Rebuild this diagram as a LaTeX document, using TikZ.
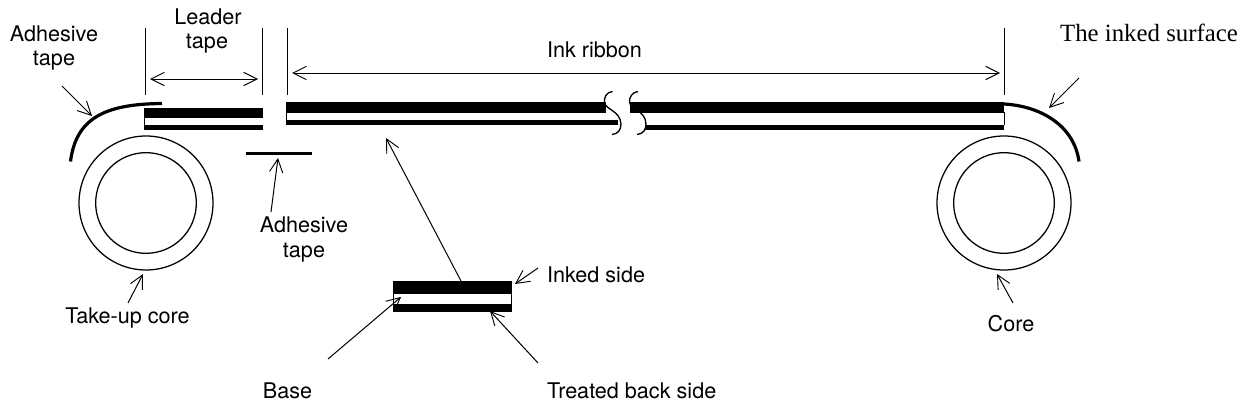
\documentclass[tikz,border=0pt]{standalone}
\usepackage{fontspec}
\setmainfont{TeX Gyre Heros}
\newfontfamily\timesfont{Liberation Serif}
\usetikzlibrary{arrows.meta}
\tikzset{
  x=0.75pt,y=-0.75pt,
  lbl/.style={anchor=base,inner sep=0pt,outer sep=0pt,font=\fontsize{16.2}{18}\selectfont},
  lblL/.style={lbl,anchor=base west},
  thin line/.style={line width=0.75pt,black},
  dim/.style={thin line,{Straight Barb[length=10pt,width=10pt,line width=0.7pt]}-{Straight Barb[length=10pt,width=10pt,line width=0.7pt]}},
  pointer/.style={thin line,-{Straight Barb[length=10pt,width=10pt,line width=0.7pt]}},
  ext/.style={line width=0.7pt,black},
  tapecurve/.style={line width=2.4pt,black},
  corecircle/.style={circle,draw=black,line width=0.95pt,fill=none,inner sep=0pt,outer sep=0pt},
  band/.style={fill=black,draw=none},
  squig/.style={line width=1pt,black},
}
\begin{document}
\begin{tikzpicture}
\useasboundingbox (0,0) rectangle (1240,407);
\fill[white] (0,0) rectangle (1240,407);

% leader tape
\fill[band] (144,107.5) rectangle (263,118);
\fill[band] (144,125) rectangle (263,130);
\draw[line width=0.6pt] (144.3,118) -- (144.3,125);
% ink ribbon, left part
\fill[band] (286,102) rectangle (606,112.5);
\fill[band] (286,120) rectangle (618,125);
\draw[line width=0.6pt] (286.3,112) -- (286.3,120);
% ink ribbon, right part
\fill[band] (630,102) rectangle (1004,112.5);
\fill[band] (645,125) rectangle (1004,130);
\draw[line width=0.6pt] (1004,112) -- (1004,125);

% break marks
\draw[squig] (612.5,91.5) .. controls (606,92) and (604,98) .. (604.5,102) .. controls (605,110) and (620,110) .. (621,124) .. controls (621,130) and (618,134) .. (612,134.5);
\draw[squig] (638,91.5) .. controls (632,92) and (629,98) .. (629.5,102) .. controls (630,110) and (645.5,110) .. (646,124) .. controls (646,130) and (643,134) .. (637,134.5);

% tape curves
\coordinate (ltA) at (70.5,161.5);
\coordinate (ltB) at (162,103.5);
\draw[tapecurve] (ltA) .. controls (76,118) and (105,104) .. (ltB);
\coordinate (rtA) at (1004,104);
\coordinate (rtB) at (1079,161.5);
\draw[tapecurve] (rtA) .. controls (1040,106) and (1074,125) .. (rtB);
% adhesive tape bar
\coordinate (barA) at (246,153.5);
\coordinate (barB) at (312,153.5);
\draw[line width=2.5pt] (barA) -- (barB);

% extension lines
\foreach \n/\xx in {e1/145.5,e2/262,e3/287,e4/1004}{
  \coordinate (\n t) at (\xx,28);
  \coordinate (\n b) at (\xx,95);
  \draw[ext] (\n t) -- (\n b);
}
% dimension arrows
\coordinate (d1a) at (150,79);
\coordinate (d1b) at (258,79);
\draw[dim] (d1a) -- (d1b);
\coordinate (d2a) at (292,73);
\coordinate (d2b) at (1000,73);
\draw[dim] (d2a) -- (d2b);

% cores
\node[corecircle,minimum size=100.5pt] (lcO) at (146,203) {};
\node[corecircle,minimum size=75.5pt] (lcI) at (146,203) {};
\node[corecircle,minimum size=100.5pt] (rcO) at (1004,203) {};
\node[corecircle,minimum size=75.5pt] (rcI) at (1004,203) {};

% sample cross-section
\fill[band] (393,280.5) rectangle (512,294);
\fill[band] (393,304) rectangle (512,311.5);
\draw[line width=0.6pt] (393.3,294) -- (393.3,304);
\draw[line width=0.6pt] (511.7,294) -- (511.7,304);

% labels
\node[lbl] (tAdh1) at (54,41) {Adhesive};
\node[lbl] (tAdh1b) at (54,65.5) {tape};
\node[lbl] (tLead) at (208,24) {Leader};
\node[lbl] (tLeadb) at (207,48.5) {tape};
\node[lbl] (tInk) at (594.5,57) {Ink ribbon};
\node[anchor=base,inner sep=0pt,font=\timesfont\fontsize{18.6}{20}\selectfont] (tSurf) at (1149,41) {The inked surface};
\node[lbl] (tAdh2) at (304,232) {Adhesive};
\node[lbl] (tAdh2b) at (304,257) {tape};
\node[lbl] (tTake) at (127.5,323) {Take-up core};
\node[lbl] (tCore) at (1011,331.5) {Core};
\node[lblL] (tSide) at (547,282) {Inked side};
\node[lbl] (tBase) at (287.5,398) {Base};
\node[lblL] (tBack) at (547,398) {Treated back side};

% pointers
\coordinate (p1a) at (62,86);   \coordinate (p1b) at (92,116);
\draw[pointer] (p1a) -- (p1b);
\coordinate (p2a) at (1079,78); \coordinate (p2b) at (1049,108);
\draw[pointer] (p2a) -- (p2b);
\coordinate (p3a) at (271,212); \coordinate (p3b) at (278,158);
\draw[pointer] (p3a) -- (p3b);
\coordinate (p4a) at (128,303); \coordinate (p4b) at (143,274);
\draw[pointer] (p4a) -- (p4b);
\coordinate (p5a) at (1013,303); \coordinate (p5b) at (997,274);
\draw[pointer] (p5a) -- (p5b);
\coordinate (p6a) at (461,281); \coordinate (p6b) at (386,138);
\draw[pointer] (p6a) -- (p6b);
\coordinate (p7a) at (538,268); \coordinate (p7b) at (515,284);
\draw[pointer] (p7a) -- (p7b);
\coordinate (p8a) at (328,359); \coordinate (p8b) at (401,297);
\draw[pointer] (p8a) -- (p8b);
\coordinate (p9a) at (538,363); \coordinate (p9b) at (490,311);
\draw[pointer] (p9a) -- (p9b);
\end{tikzpicture}
\end{document}
